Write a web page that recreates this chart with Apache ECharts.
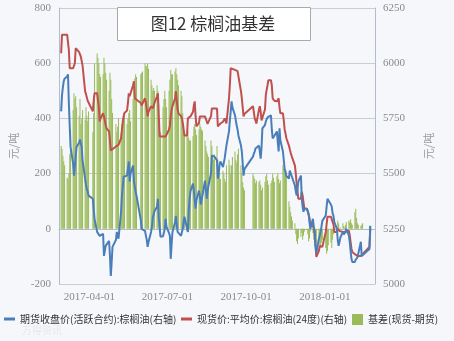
<!DOCTYPE html>
<html><head><meta charset="utf-8">
<script src="https://cdn.jsdelivr.net/npm/echarts@6/dist/echarts.min.js"></script>
<style>html,body{margin:0;padding:0;background:#f5f7fa}#c{width:454px;height:341px}</style>
</head><body><div id="c"></div>
<script>
// ---- data ----
const titleText = '图12 棕榈油基差';
const startDate = '2017-02-25';
const endDate = '2018-02-28';
const firstMonday = '2017-02-27';
const xTickLabels = ['2017-04-01', '2017-07-01', '2017-10-01', '2018-01-01'];
const unitName = '元/吨';
const nameFutures = '期货收盘价(活跃合约):棕榈油(右轴)';
const nameSpot = '现货价:平均价:棕榈油(24度)(右轴)';
const nameBasis = '基差(现货-期货)';
const leftAxis = { min: -200, max: 800, interval: 200 };
const rightAxis = { min: 5000, max: 6250, interval: 250 };

// trading-day values, five per week (Mon..Fri) starting at firstMonday; null = holiday
const spot = [
  6045,6129,6129,6129,6129, 6129,6129,6060,5977,5977, 5977,5977,6000,6068,6060, 6050,6040,6030,6023,5990,
  5873,5860,5845,5830,5827, null,null,5782,5830,5864, 5864,5864,5800,5736,5750, 5773,5760,5740,5720,5705,
  5691,5691,5605,5600,5610, null,5623,5623,5623,5630, 5659,5700,5736,5760,5775, 5786,5820,5864,5850,5850,
  5900,5918,5841,5841,5836, null,null,5820,5809,5809, 5841,5820,5790,5759,5780, 5805,5800,5795,5795,5820,
  5850,5864,5760,5668,5668, 5668,5668,5668,5668,5668, 5700,5718,5760,5790,5805, 5840,5873,5830,5790,5773,
  5760,5750,5730,5700,5673, 5673,5750,5755,5759,5759, 5780,5810,5827,5760,5714, 5730,5759,5759,5759,5759,
  5759,5750,5736,5725,5718, 5760,5795,5795,5795,5795, 5795,5714,5714,5720,5727, 5735,5740,5750,5740,5727,
  5841,5900,5977,5977,5975, 5970,5968,5966,5964,5964, 5873,5841,5800,5759,5770, null,null,null,null,null,
  5805,5780,5750,5740,5727, 5790,5805,5780,5741,5741, 5790,5855,5880,5900,5923, 5923,5900,5841,5835,5830,
  5827,5835,5841,5800,5773, 5773,5740,5700,5682,5660, 5627,5610,5595,5582,5570, 5536,5500,5455,5420,5386,
  5386,5418,5400,5370,5341, 5341,5336,5332,5300,5264, 5264,5250,5236,5180,5123, 5150,5173,5170,5168,5168,
  null,5236,5270,5305,5305, 5305,5305,5305,5270,5236, 5236,5250,5245,5240,5236, 5236,5236,5236,5236,5238,
  5241,5220,5191,5160,5145, 5135,5127,5127,5127,5127, 5127,5136,5136,null,null, null,null,null,5168,5250
];
const futures = [
  5782,5855,5890,5918,5930, 5940,5950,5820,5718,5620, 5545,5491,5530,5582,5620, 5640,5655,5659,5620,5560,
  5477,5450,5430,5420,5400, null,null,5386,5340,5295, 5236,5230,5227,5218,5222, 5227,5127,5150,5173,5180,
  5195,5127,5036,5100,5168, null,5200,5236,5220,5205, 5327,5400,5445,5486,5490, 5491,5500,5555,5464,5500,
  5536,5464,5440,5418,5400, null,null,5290,5250,5257, 5240,5218,5200,5168,5190, 5236,5260,5300,5309,5330,
  5350,5386,5300,5259,5214, 5216,5218,5250,5295,5260, 5230,5218,5114,5180,5236, 5280,5309,5270,5236,5236,
  5218,5225,5250,5280,5305, 5250,5236,5330,5386,5420, 5455,5420,5380,5341,5380, 5423,5400,5360,5355,5400,
  5468,5430,5386,5420,5445, 5500,5582,5590,5580,5577, 5560,5477,5500,5540,5555, 5530,5523,5570,5600,5627,
  5691,5740,5782,5827,5800, 5764,5740,5718,5700,5673, 5627,5600,5591,5491,5520, null,null,null,null,null,
  5577,5590,5600,5614,5620, 5627,5600,5568,5620,5705, 5720,5736,5745,5755,5764, 5764,5700,5659,5659,5659,
  5691,5640,5600,5705,5650, 5600,5560,5520,5509,5490, 5477,5514,5510,5509,5480, 5445,5420,5400,5430,5464,
  5491,5386,5350,5327,5341, 5341,5330,5318,5280,5250, 5295,5260,5236,5173,5140, 5205,5220,5236,5260,5286,
  null,5310,5350,5386,5386, 5360,5350,5320,5309,5280, 5250,5200,5173,5190,5210, 5236,5225,5218,5235,5250,
  5220,5191,5150,5114,5100, 5100,5110,5114,5120,5127, 5191,5127,5130,null,null, null,null,null,5159,5264
];
const basis = [
  300,290,265,245,230, 185,180,200,270,360, 430,490,470,480,440, 410,470,380,400,430,
  395,440,410,390,425, null,null,350,420,600, 635,620,600,560,550, 560,620,600,565,540,
  500,565,540,470,420, null,380,350,370,400, 345,380,400,420,410, 380,400,420,430,390,
  470,520,545,560,550, null,null,560,565,570, 600,590,590,600,580, 540,520,500,510,500,
  520,500,450,400,350, 440,470,500,470,440, 500,540,575,560,560, 570,582,560,540,520,
  500,480,420,380,345, 340,355,330,320,320, 335,370,380,360,340, 360,380,370,360,355,
  320,300,280,270,260, 320,300,260,250,270, 300,250,220,200,180, 210,200,180,170,230,
  250,230,200,230,260, 280,250,240,270,290, 230,200,170,150,140, null,null,null,null,null,
  200,190,180,165,175, 170,175,160,140,150, 170,190,200,175,160, 165,175,200,185,170,
  190,200,180,165,175, 230,220,210,200,190, 100,80,60,45,30, 20,-20,-45,-55,-35,
  -30,-15,-40,-25,-10, -5,-20,-45,-35,-10, -15,-40,-60,-80,-50, -30,-60,-70,-50,-40,
  null,-70,-90,-80,-60, -50,-70,-40,-20,-10, 10,30,20,-5,5, 20,10,5,15,25,
  30,25,35,20,15, 60,73,40,20,15, 10,15,20,null,null, null,null,null,10,5
];

// ---- build calendar-day categories and map trading days onto them ----
const DAY = 86400000;
const t0 = Date.parse(startDate + 'T00:00:00Z');
const t1 = Date.parse(endDate + 'T00:00:00Z');
const tm = Date.parse(firstMonday + 'T00:00:00Z');
const categories = [];
const sSpot = [], sFut = [], sBasis = [];
for (let t = t0; t <= t1; t += DAY) {
  const d = new Date(t);
  categories.push(d.toISOString().slice(0, 10));
  const wd = d.getUTCDay();
  let idx = -1;
  if (wd >= 1 && wd <= 5 && t >= tm) idx = Math.floor((t - tm) / (7 * DAY)) * 5 + (wd - 1);
  const pick = a => (idx >= 0 && idx < a.length && a[idx] != null) ? a[idx] : null;
  sSpot.push(pick(spot)); sFut.push(pick(futures)); sBasis.push(pick(basis));
}

const chart = echarts.init(document.getElementById('c'), null, { renderer: 'canvas' });
const tickFont = { color: '#8a8a8a', fontFamily: 'Liberation Serif', fontSize: 11 };
const isTick = (i, v) => xTickLabels.indexOf(v) >= 0;
const plain = v => String(v);
chart.setOption({
  animation: false,
  backgroundColor: '#f5f7fa',
  grid: { left: 57, right: 79, top: 8, bottom: 57 },
  xAxis: {
    type: 'category', data: categories, boundaryGap: true,
    axisLine: { lineStyle: { color: '#b3bccb', width: 1 } },
    axisTick: { interval: isTick, inside: true, length: 4, alignWithLabel: true, lineStyle: { color: '#b3bccb' } },
    axisLabel: Object.assign({ interval: isTick, margin: 8 }, tickFont),
    splitLine: { show: false }
  },
  yAxis: [
    { type: 'value', min: leftAxis.min, max: leftAxis.max, interval: leftAxis.interval,
      name: unitName, nameLocation: 'middle', nameGap: 40, nameRotate: 90,
      nameTextStyle: { color: '#9a9a9a', fontSize: 11, fontFamily: 'Noto Sans CJK SC' },
      axisLine: { show: true, lineStyle: { color: '#b3bccb' } }, axisTick: { show: false },
      axisLabel: Object.assign({ margin: 8, formatter: plain }, tickFont),
      splitLine: { lineStyle: { color: '#c8ccd3', width: 1 } } },
    { type: 'value', min: rightAxis.min, max: rightAxis.max, interval: rightAxis.interval,
      name: unitName, nameLocation: 'middle', nameGap: 48, nameRotate: 90,
      nameTextStyle: { color: '#9a9a9a', fontSize: 11, fontFamily: 'Noto Sans CJK SC' },
      axisLine: { show: true, lineStyle: { color: '#b3bccb' } }, axisTick: { show: false },
      axisLabel: Object.assign({ margin: 8, formatter: plain }, tickFont),
      splitLine: { show: false } }
  ],
  legend: [
    { data: [nameFutures], left: 4, top: 314, padding: 0, icon: 'rect', itemWidth: 11, itemHeight: 3,
      textStyle: { color: '#333', fontSize: 10, fontFamily: 'Noto Sans CJK SC' } },
    { data: [nameSpot], left: 181, top: 314, padding: 0, icon: 'rect', itemWidth: 11, itemHeight: 3,
      textStyle: { color: '#333', fontSize: 10, fontFamily: 'Noto Sans CJK SC' } },
    { data: [nameBasis], left: 352, top: 314, padding: 0, icon: 'rect', itemWidth: 11, itemHeight: 11,
      textStyle: { color: '#333', fontSize: 10, fontFamily: 'Noto Sans CJK SC' } }
  ],
  graphic: [
    { type: 'rect', z: 100, shape: { x: 117.5, y: 7.5, width: 193, height: 33 },
      style: { fill: '#ffffff', stroke: '#a9a9a9', lineWidth: 1 } },
    { type: 'text', z: 101, x: 213, y: 24,
      style: { text: titleText, fill: '#333', font: '17px "Noto Sans CJK SC"', align: 'center', verticalAlign: 'middle' } },
    { type: 'text', z: 101, x: 22, y: 330,
      style: { text: '万得资讯', fill: '#e6e8ec', font: '10px "Noto Sans CJK SC"', align: 'left', verticalAlign: 'middle' } }
  ],
  series: [
    { name: nameBasis, type: 'bar', yAxisIndex: 0, data: sBasis, barCategoryGap: '0%', barGap: '0%',
      itemStyle: { color: '#9bbb59' }, z: 1 },
    { name: nameFutures, type: 'line', yAxisIndex: 1, data: sFut, showSymbol: false, symbol: 'none',
      connectNulls: true, lineStyle: { color: '#4a7ebb', width: 2 }, itemStyle: { color: '#4a7ebb' }, z: 3 },
    { name: nameSpot, type: 'line', yAxisIndex: 1, data: sSpot, showSymbol: false, symbol: 'none',
      connectNulls: true, lineStyle: { color: '#c0504d', width: 2 }, itemStyle: { color: '#c0504d' }, z: 2 }
  ]
});
</script>
</body></html>
